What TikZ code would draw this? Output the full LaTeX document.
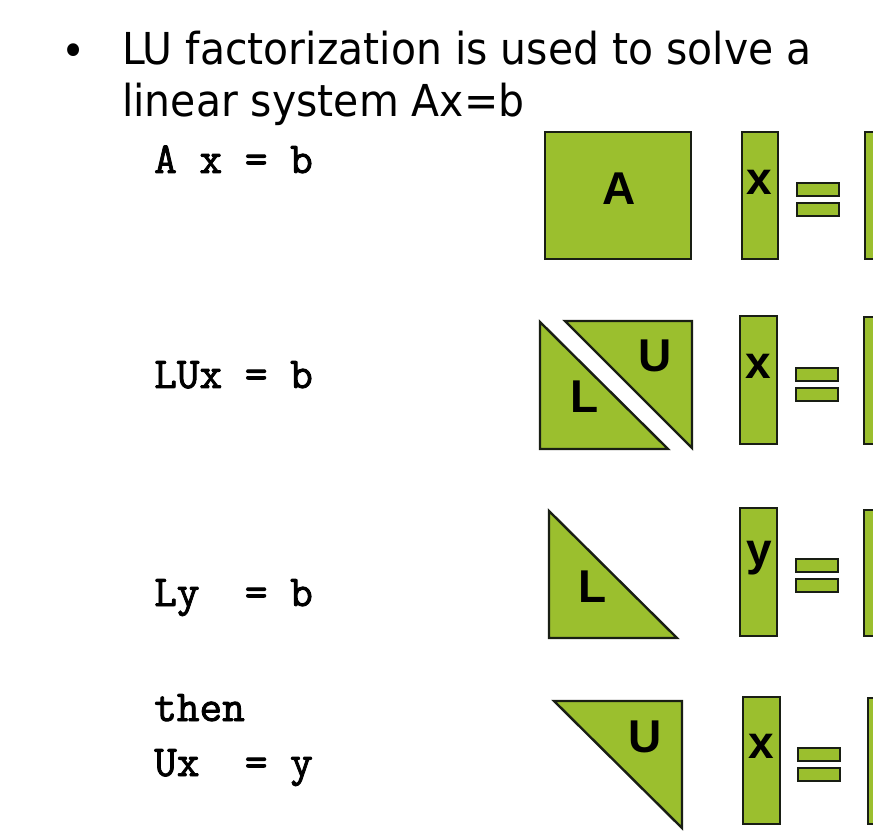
\documentclass[tikz,border=0pt]{standalone}
\usepackage{fontspec}
\setmainfont{DejaVu Sans}
\newfontfamily\slidefont{DejaVu Sans}[FakeStretch=0.93]
\newfontfamily\eqfont{Latin Modern Mono}[FakeBold=2]
\newfontfamily\matfont{Liberation Sans}
\definecolor{MatGreen}{RGB}{155,191,46}
\definecolor{MatEdge} {RGB}{ 25, 30, 20}
\tikzset{
  % Matrix block, vector or triangle
  block/.style={
    fill=MatGreen, draw=MatEdge, line width=2.4pt, line join=miter
  },
  % Bold letter inside a block
  blocklabel/.style={
    anchor=base, inner sep=0pt,
    font=\matfont\fontsize{46}{46}\selectfont\bfseries
  },
  % Equation in the left column
  eqtext/.style={
    anchor=base west, inner sep=0pt,
    font=\eqfont\fontsize{44}{44}\selectfont
  },
  % Bullet text at the top
  slidetext/.style={
    anchor=base west, inner sep=0pt,
    font=\slidefont\fontsize{44}{44}\selectfont
  }
}
% two bars of the equals sign, #1 = left, #2 = top
\newcommand{\EqBars}[2]{
  \draw[block] (#1,#2) rectangle ++(42,13);
  \draw[block] (#1,#2+20) rectangle ++(42,13);
}

\begin{document}
\begin{tikzpicture}[x=1pt, y=-1pt]

  \fill[white] (0,0) rectangle (873,834);
  \useasboundingbox (0,0) rectangle (873,834);
  \clip (0,0) rectangle (873,834);

  % ── Bullet text ───────────────────────────────────────────────────────
  \node[slidetext, anchor=center] (bullet) at (74,55) {•};
  \node[slidetext] (title1) at (122,65) {LU factorization is used to solve a};
  \node[slidetext] (title2) at (122,117) {linear system Ax=b};

  % ── Equations, left column ────────────────────────────────────────────
  \node[eqtext] (eqAx) at (154,173) {A x = b};
  \node[eqtext] (eqLU) at (154,388) {LUx = b};
  \node[eqtext] (eqLy) at (154,606) {Ly~~= b};
  \node[eqtext] (eqthen) at (154,721) {then};
  \node[eqtext] (eqUx) at (154,776) {Ux~~= y};

  % ── Row 1: A x = b ────────────────────────────────────────────────────
  \draw[block] (545,132) rectangle (691,259);
  \node[blocklabel] (lblA) at (619,205) {A};
  \draw[block] (742,132) rectangle (778,259);
  \node[blocklabel] (lblx1) at (759,195) {x};
  \EqBars{797}{183}
  \draw[block] (865,132) rectangle (900,259);

  % ── Row 2: LU x = b ───────────────────────────────────────────────────
  \draw[block] (540,322) -- (540,449) -- (668,449) -- cycle;
  \draw[block] (565,321) -- (692,321) -- (692,448) -- cycle;
  \node[blocklabel] (lblU2) at (655,371) {U};
  \node[blocklabel] (lblL2) at (585,412) {L};
  \draw[block] (740,316) rectangle (777,444);
  \node[blocklabel] (lblx2) at (758,378) {x};
  \EqBars{796}{368}
  \draw[block] (864,317) rectangle (900,444);

  % ── Row 3: L y = b ────────────────────────────────────────────────────
  \draw[block] (549,511) -- (549,638) -- (677,638) -- cycle;
  \node[blocklabel] (lblL3) at (593,602) {L};
  \draw[block] (740,508) rectangle (777,636);
  \node[blocklabel] (lbly3) at (759,565) {y};
  \EqBars{796}{559}
  \draw[block] (864,510) rectangle (900,636);

  % ── Row 4: U x = y ────────────────────────────────────────────────────
  \draw[block] (554,701) -- (682,701) -- (682,828) -- cycle;
  \node[blocklabel] (lblU4) at (645,752) {U};
  \draw[block] (743,697) rectangle (780,824);
  \node[blocklabel] (lblx4) at (761,758) {x};
  \EqBars{798}{748}
  \draw[block] (868,698) rectangle (900,824);

\end{tikzpicture}
\end{document}
